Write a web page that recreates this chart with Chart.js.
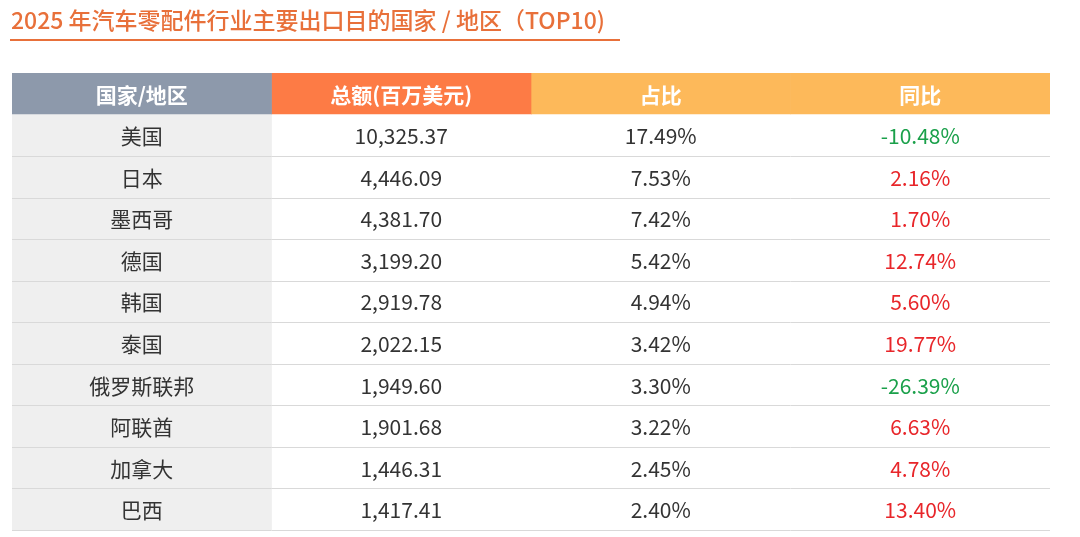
<!DOCTYPE html>
<html><head><meta charset="utf-8">
<script src="https://cdn.jsdelivr.net/npm/chart.js@4"></script>
<style>html,body{margin:0;padding:0;background:#fff}#w{width:1080px;height:537px}</style>
</head><body><div id="w"><canvas id="c"></canvas></div>
<script>
const titleText = "2025 年汽车零配件行业主要出口目的国家 / 地区（TOP10)";
const headers = ["国家/地区", "总额(百万美元)", "占比", "同比"];
const countries = ["美国","日本","墨西哥","德国","韩国","泰国","俄罗斯联邦","阿联酋","加拿大","巴西"];
const totals = ["10,325.37","4,446.09","4,381.70","3,199.20","2,919.78","2,022.15","1,949.60","1,901.68","1,446.31","1,417.41"];
const shares = ["17.49%","7.53%","7.42%","5.42%","4.94%","3.42%","3.30%","3.22%","2.45%","2.40%"];
const yoy = [-10.48, 2.16, 1.70, 12.74, 5.60, 19.77, -26.39, 6.63, 4.78, 13.40];

const rows = ["header"].concat(countries);
const headColors = ["#8d99ab","#fd7b45","#fdb95a","#fdb95a"];
const datasets = headers.map((h, ci) => ({
  label: h,
  data: rows.map(() => [ci, ci + 1]),
  backgroundColor: rows.map((r, ri) => ri === 0 ? headColors[ci] : (ci === 0 ? "#efefef" : "#ffffff")),
  borderWidth: 0, barPercentage: 1, categoryPercentage: 1, grouped: false
}));

const textPlugin = {
  id: "tbl",
  afterDatasetsDraw(chart) {
    const ctx = chart.ctx, x = chart.scales.x, y = chart.scales.y;
    const F = '"Noto Sans CJK SC","Noto Sans",sans-serif';
    ctx.save();
    ctx.fillStyle = "#e8703a"; ctx.font = "500 23px " + F;
    ctx.textBaseline = "middle"; ctx.textAlign = "left";
    ctx.fillText(titleText, 11, 20);
    ctx.fillRect(10, 39, 610, 2);
    const half = (y.getPixelForValue(1) - y.getPixelForValue(0)) / 2;
    ctx.strokeStyle = "#d9d9d9"; ctx.lineWidth = 1;
    for (let i = 1; i < rows.length; i++) {
      const yy = Math.round(y.getPixelForValue(i) + half) + 0.5;
      ctx.beginPath(); ctx.moveTo(x.getPixelForValue(0), yy); ctx.lineTo(x.getPixelForValue(4), yy); ctx.stroke();
    }
    ctx.textAlign = "center";
    rows.forEach((r, ri) => {
      const yy = y.getPixelForValue(ri) + 1;
      let cells, colors;
      if (ri === 0) {
        cells = headers; colors = ["#fff","#fff","#fff","#fff"];
        ctx.font = "bold 21px " + F;
      } else {
        const v = yoy[ri - 1];
        cells = [countries[ri-1], totals[ri-1], shares[ri-1], v.toFixed(2) + "%"];
        colors = ["#333","#333","#333", v < 0 ? "#1aa04a" : "#e8262a"];
        ctx.font = "21px " + F;
      }
      cells.forEach((t, ci) => {
        ctx.fillStyle = colors[ci];
        ctx.fillText(t, x.getPixelForValue(ci + 0.5), yy);
      });
    });
    ctx.restore();
  }
};

new Chart(document.getElementById("c"), {
  type: "bar",
  data: { labels: rows, datasets },
  options: {
    indexAxis: "y", responsive: true, maintainAspectRatio: false, animation: false,
    layout: { padding: { left: 12, right: 30, top: 73, bottom: 7 } },
    scales: {
      x: { type: "linear", min: 0, max: 4, display: false },
      y: { type: "category", display: false, offset: true }
    },
    plugins: { legend: { display: false }, tooltip: { enabled: false } }
  },
  plugins: [textPlugin]
});
</script></body></html>
